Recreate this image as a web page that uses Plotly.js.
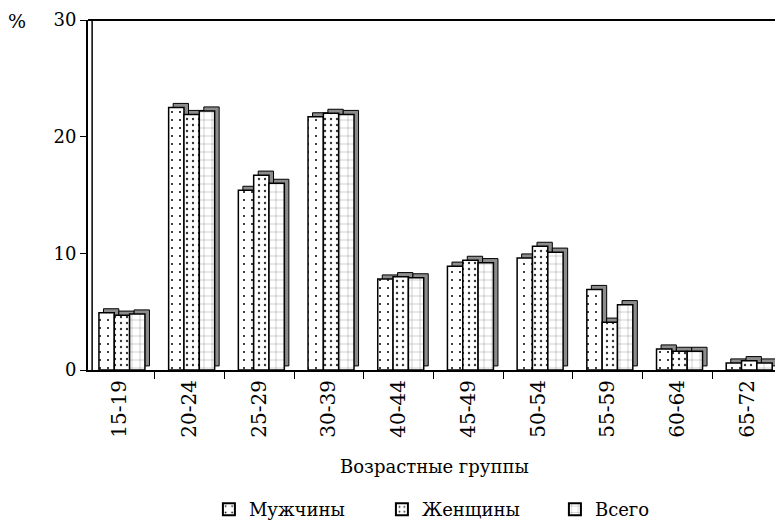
<!DOCTYPE html>
<html>
<head>
<meta charset="utf-8">
<script src="https://cdn.plot.ly/plotly-3.0.1.min.js"></script>
<style>
  body { margin: 0; background: #fff; }
  #chart { width: 775px; height: 522px; }
</style>
</head>
<body>
<div id="chart"></div>
<script>
// Age groups and shares (%)
const ageGroups = ['15-19', '20-24', '25-29', '30-39', '40-44', '45-49', '50-54', '55-59', '60-64', '65-72'];
const men   = [4.9, 22.5, 15.4, 21.7, 7.8, 8.9, 9.6, 6.9, 1.8, 0.6];
const women = [4.7, 21.9, 16.7, 22.0, 8.0, 9.4, 10.6, 4.1, 1.6, 0.8];
const total = [4.8, 22.2, 16.0, 21.9, 7.9, 9.2, 10.1, 5.6, 1.6, 0.6];
const seriesNames = ['Мужчины', 'Женщины', 'Всего'];
const yTicks = [0, 10, 20, 30];

const font = 'DejaVu Serif';
const barWidth = 0.22;
const offsets = [-0.30, -0.08, 0.14];
const patterns = [
    { shape: '.', size: 8, solidity: 0.05, fgcolor: '#000' },
    { shape: '.', size: 6, solidity: 0.12, fgcolor: '#333' },
    { shape: '+', size: 8, solidity: 0.06, fgcolor: '#444' }
];
const depthY = 0.35;   // fake 3d depth in data units
const depthX = 0.065;

const series = [men, women, total];

// gray back faces first, so the front faces cover them
const shadows = series.map((vals, i) => ({
    type: 'bar',
    x: ageGroups,
    y: vals,
    base: depthY,
    width: barWidth,
    offset: offsets[i] + depthX,
    marker: { color: '#8c8c8c', line: { color: '#000', width: 1 } },
    showlegend: false,
    hoverinfo: 'skip'
}));

const fronts = series.map((vals, i) => ({
    type: 'bar',
    name: seriesNames[i],
    x: ageGroups,
    y: vals,
    width: barWidth,
    offset: offsets[i],
    marker: {
        color: '#fff',
        line: { color: '#000', width: 1.5 },
        pattern: Object.assign({ bgcolor: '#fff' }, patterns[i])
    }
}));

const layout = {
    width: 775,
    height: 522,
    margin: { l: 88, r: 0, t: 20, b: 152, autoexpand: false },
    paper_bgcolor: '#fff',
    plot_bgcolor: '#fff',
    barmode: 'overlay',
    font: { family: font, color: '#000', size: 18 },
    xaxis: {
        type: 'category',
        range: [-0.457, 9.4],
        automargin: false,
        tickson: 'boundaries',
        ticks: 'outside',
        ticklen: 7,
        tickcolor: '#000',
        tickangle: -90,
        tickfont: { family: font, size: 20 },
        showline: true,
        linecolor: '#000',
        linewidth: 2,
        showgrid: false,
        zeroline: false
    },
    yaxis: {
        range: [0, 30],
        automargin: false,
        tickvals: yTicks,
        ticks: 'outside',
        ticklen: 6,
        tickcolor: '#000',
        tickfont: { family: font, size: 18 },
        showline: true,
        linecolor: '#000',
        linewidth: 2,
        showgrid: false,
        zeroline: false
    },
    shapes: [
        { type: 'line', xref: 'paper', yref: 'paper', x0: 0, x1: 1, y0: 1, y1: 1, line: { color: '#000', width: 2 } },
        { type: 'line', xref: 'paper', yref: 'paper', x0: 0.006, x1: 0.006, y0: 0, y1: 1, line: { color: '#000', width: 1.5 } }
    ],
    annotations: [
        { text: '%', xref: 'paper', yref: 'paper', x: -0.104, y: 0.997, xanchor: 'center', yanchor: 'middle', showarrow: false, font: { size: 19 } },
        { text: 'Возрастные группы', xref: 'paper', yref: 'paper', x: 0.505, y: -0.276, xanchor: 'center', yanchor: 'middle', showarrow: false, font: { size: 18 } }
    ],
    legend: {
        orientation: 'h',
        x: 0.176,
        xanchor: 'left',
        y: -0.346,
        yanchor: 'top',
        font: { size: 18 },
        entrywidth: 128,
        itemsizing: 'constant'
    },
    showlegend: true
};

Plotly.newPlot('chart', shadows.concat(fronts), layout, { displayModeBar: false, staticPlot: true });
</script>
</body>
</html>
